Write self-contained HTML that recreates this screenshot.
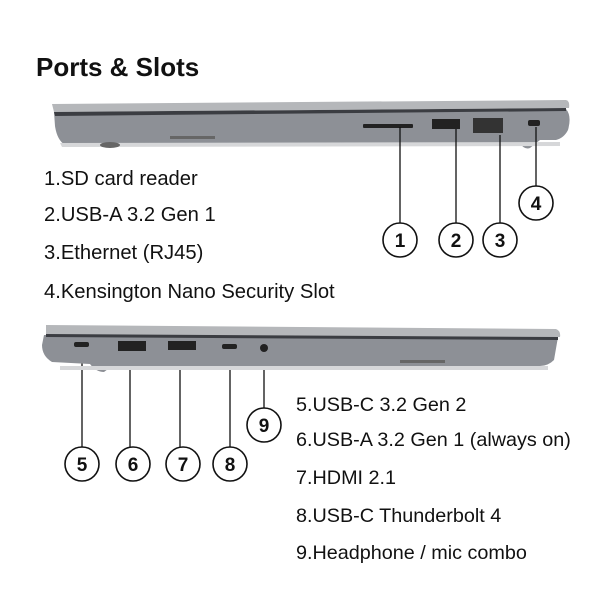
<!DOCTYPE html>
<html><head><style>body{margin:0;background:#fff}svg{display:block}</style></head>
<body>
<svg width="612" height="612" viewBox="0 0 612 612" xmlns="http://www.w3.org/2000/svg" font-family="Liberation Sans, sans-serif">
<rect width="612" height="612" fill="#fff"/>
<text x="36" y="76" font-size="26" font-weight="bold" fill="#111">Ports &amp; Slots</text>
<!-- laptop 1 -->
<path d="M52 104 L566 100 Q570 101 569 108 L54 112 Z" fill="#b5b7ba"/>
<path d="M54 112 L566 109 Q572 116 568 130 Q564 138 556 140 L540 140 L530 148 Q524 150 520 143 L65 145 Q57 140 55 126 Z" fill="#8d9096"/>
<path d="M54 112 L566 108 L566 111 L55 116 Z" fill="#3b3d42"/>
<path d="M60 143 L560 142 L560 146 L62 147 Z" fill="#d6d7d9"/>
<ellipse cx="110" cy="145" rx="10" ry="3" fill="#666"/>
<rect x="170" y="136" width="45" height="3" fill="#666"/>
<rect x="363" y="124" width="50" height="4" rx="1" fill="#222"/>
<rect x="432" y="119" width="28" height="10" fill="#222"/>
<rect x="473" y="118" width="30" height="15" fill="#333"/>
<rect x="528" y="120" width="12" height="6" rx="2" fill="#222"/>
<g stroke="#111" stroke-width="1.3" fill="none">
<line x1="400" y1="127" x2="400" y2="223"/><line x1="456" y1="129" x2="456" y2="223"/>
<line x1="500" y1="135" x2="500" y2="223"/><line x1="536" y1="127" x2="536" y2="186"/>
<line x1="82" y1="347" x2="82" y2="447"/><line x1="130" y1="353" x2="130" y2="447"/>
<line x1="180" y1="353" x2="180" y2="447"/><line x1="230" y1="348" x2="230" y2="447"/>
<line x1="264" y1="350" x2="264" y2="408"/>
<g fill="#fff" stroke-width="1.6">
<circle cx="400" cy="240" r="17"/><circle cx="456" cy="240" r="17"/><circle cx="500" cy="240" r="17"/><circle cx="536" cy="203" r="17"/>
<circle cx="82" cy="464" r="17"/><circle cx="133" cy="464" r="17"/><circle cx="183" cy="464" r="17"/><circle cx="230" cy="464" r="17"/><circle cx="264" cy="425" r="17"/>
</g></g>
<g font-size="19" font-weight="bold" fill="#111" text-anchor="middle">
<text x="400" y="247">1</text><text x="456" y="247">2</text><text x="500" y="247">3</text><text x="536" y="210">4</text>
<text x="82" y="471">5</text><text x="133" y="471">6</text><text x="183" y="471">7</text><text x="230" y="471">8</text><text x="264" y="432">9</text>
</g>
<!-- laptop 2 -->
<path d="M46 325 L556 329 Q561 331 560 337 L46 335 Z" fill="#b5b7ba"/>
<path d="M44 335 L558 337 L554 360 Q548 366 540 366 L112 366 L104 372 Q96 372 90 364 L52 362 Q42 356 42 345 Z" fill="#8d9096"/>
<path d="M46 334 L558 337 L558 340 L46 337 Z" fill="#3b3d42"/>
<path d="M60 366 L548 366 L548 370 L60 370 Z" fill="#d6d7d9"/>
<rect x="400" y="360" width="45" height="3" fill="#666"/>
<rect x="74" y="342" width="15" height="5" rx="2" fill="#222"/>
<rect x="118" y="341" width="28" height="10" fill="#222"/>
<rect x="168" y="341" width="28" height="9" fill="#222"/>
<rect x="222" y="344" width="15" height="5" rx="2" fill="#222"/>
<circle cx="264" cy="348" r="4" fill="#222"/>
<g font-size="20.2" fill="#111">
<text x="44" y="185">1.SD card reader</text>
<text x="44" y="221">2.USB-A 3.2 Gen 1</text>
<text x="44" y="259">3.Ethernet (RJ45)</text>
<text x="44" y="298">4.Kensington Nano Security Slot</text>
</g>
<g font-size="19.8" fill="#111">
<text x="296" y="411">5.USB-C 3.2 Gen 2</text>
<text x="296" y="446">6.USB-A 3.2 Gen 1 (always on)</text>
<text x="296" y="484">7.HDMI 2.1</text>
<text x="296" y="522">8.USB-C Thunderbolt 4</text>
<text x="296" y="559">9.Headphone / mic combo</text>
</g>
</svg>
</body></html>
